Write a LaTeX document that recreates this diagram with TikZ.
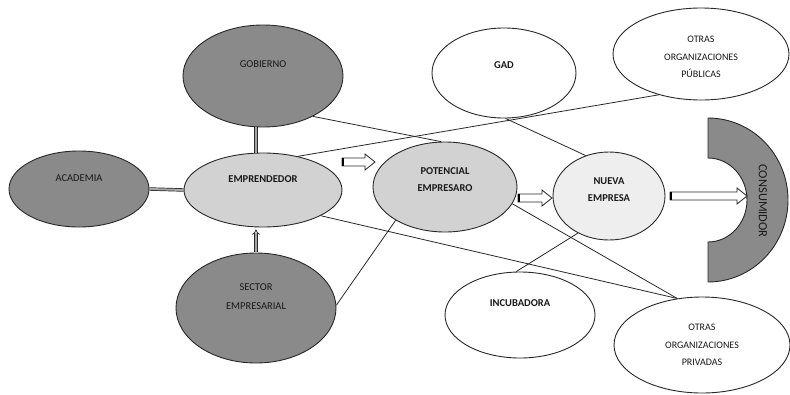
\documentclass[tikz,border=0pt]{standalone}
\usepackage{fontspec}
\setmainfont{Carlito}
\usetikzlibrary{shapes.geometric,arrows.meta,calc}

\definecolor{darkfill}{RGB}{138,138,138}
\definecolor{midfill}{RGB}{210,210,210}
\definecolor{lightfill}{RGB}{238,238,238}
\definecolor{edge}{RGB}{40,40,40}

\begin{document}
\begin{tikzpicture}[x=1pt,y=-1pt,
  oval/.style={ellipse, draw=edge, line width=0.9pt, inner sep=0pt},
  lbl/.style={font=\fontsize{10.5}{17}\selectfont, text=black!90, align=center},
  blbl/.style={lbl, font=\fontsize{10.5}{17}\selectfont\bfseries},
  link/.style={draw=edge, line width=0.8pt},
  pipe/.style={draw=edge, line width=0.7pt, double=gray!70, double distance=2pt},
  blockarrow/.style={draw=edge, line width=0.8pt, fill=white,
    to path={($(\tikztostart)+(0,-4)$) -- ($(\tikztotarget)+(-10,-4)$)
      -- ($(\tikztotarget)+(-10,-8)$) -- (\tikztotarget)
      -- ($(\tikztotarget)+(-10,8)$) -- ($(\tikztotarget)+(-10,4)$)
      -- ($(\tikztostart)+(0,4)$) -- cycle}},
  arrowbase/.style={line width=2.4pt, draw=black}
]
\useasboundingbox (0,0) rectangle (790,394);

% ellipses
\node[oval, fill=darkfill, minimum width=160pt, minimum height=102pt] (gob) at (263,76) {};
\node[oval, fill=darkfill, minimum width=140pt, minimum height=76pt] (aca) at (79,189) {};
\node[oval, fill=midfill, minimum width=158pt, minimum height=74pt] (emp) at (263,190) {};
\node[oval, fill=darkfill, minimum width=160pt, minimum height=110pt] (sec) at (256,308) {};
\node[oval, fill=midfill, minimum width=144pt, minimum height=90pt] (pot) at (445,187) {};
\node[oval, fill=lightfill, minimum width=112pt, minimum height=88pt] (nue) at (609,196) {};
\node[oval, fill=white, minimum width=144pt, minimum height=90pt] (gad) at (504,73) {};
\node[oval, fill=white, minimum width=176pt, minimum height=92pt] (pub) at (701,54) {};
\node[oval, fill=white, minimum width=150pt, minimum height=86pt] (inc) at (520,315) {};
\node[oval, fill=white, minimum width=176pt, minimum height=96pt] (priv) at (702,345) {};

% consumer half ring
\draw[fill=darkfill, draw=edge, line width=0.9pt]
  (708,118) arc[start angle=-90, end angle=90, x radius=80, y radius=82]
  -- (708,242) arc[start angle=90, end angle=-90, x radius=39, y radius=42]
  -- cycle;
\node[font=\fontsize{12.5}{15}\selectfont, text=black!90, rotate=-90] (cons) at (763,201) {CONSUMIDOR};
\coordinate (cons-in) at (747,196);

% labels
\node[lbl] (gob-t) at (263,64) {GOBIERNO};
\node[lbl] (aca-t) at (79,178) {ACADEMIA};
\node[blbl] (emp-t) at (263,179) {EMPRENDEDOR};
\node[lbl, font=\fontsize{10.5}{19}\selectfont] (sec-t) at (256,297) {SECTOR\\EMPRESARIAL};
\node[blbl] (pot-t) at (445,180) {POTENCIAL\\EMPRESARO};
\node[blbl] (nue-t) at (609,190) {NUEVA\\EMPRESA};
\node[blbl] (gad-t) at (504,65) {GAD};
\node[lbl, font=\fontsize{10}{17.5}\selectfont] (pub-t) at (701,57) {OTRAS\\ORGANIZACIONES\\PÚBLICAS};
\node[blbl] (inc-t) at (520,303) {INCUBADORA};
\node[lbl, font=\fontsize{10}{17.5}\selectfont] (priv-t) at (702,345) {OTRAS\\ORGANIZACIONES\\PRIVADAS};

% plain links
\draw[link] (gob.-39) -- (pot.95);
\draw[link] (emp.44) -- (pub.-136);
\draw[link] (gad.-88) -- (nue.120);
\draw[link] (emp.-24) -- (priv.118);
\draw[link] (pot.-14) -- (priv.118);
\draw[link] (sec.2) -- (pot.-146);
\draw[link] (nue.-130) -- (inc.95);

% double pipes into EMPRENDEDOR
\draw[pipe] (aca.east) -- (emp.west);
\coordinate (gob-out) at ($(gob.south)+(-7,-0.5)$);
\draw[pipe] (gob-out) -- (gob-out |- emp.north);
\coordinate (sec-out) at ($(sec.north)+(0,-0.5)$);
\draw[pipe, -{Implies}] (sec-out) -- ($(sec-out |- emp.south)+(0,2)$);

% block arrows
\coordinate (a1s) at (342,162);
\coordinate (a1e) at (375,162);
\coordinate (a2s) at (518,198);
\coordinate (a2e) at (552,198);
\coordinate (a3s) at (670,196);
\draw[blockarrow] (a1s) to (a1e);
\draw[blockarrow] (a2s) to (a2e);
\draw[blockarrow] (a3s) to (cons-in);
\draw[arrowbase] ($(a1s)+(1.2,-4)$) -- ($(a1s)+(1.2,4)$);
\draw[arrowbase] ($(a2s)+(1.2,-4)$) -- ($(a2s)+(1.2,4)$);
\draw[arrowbase] ($(a3s)+(1.2,-4)$) -- ($(a3s)+(1.2,4)$);
\end{tikzpicture}
\end{document}
